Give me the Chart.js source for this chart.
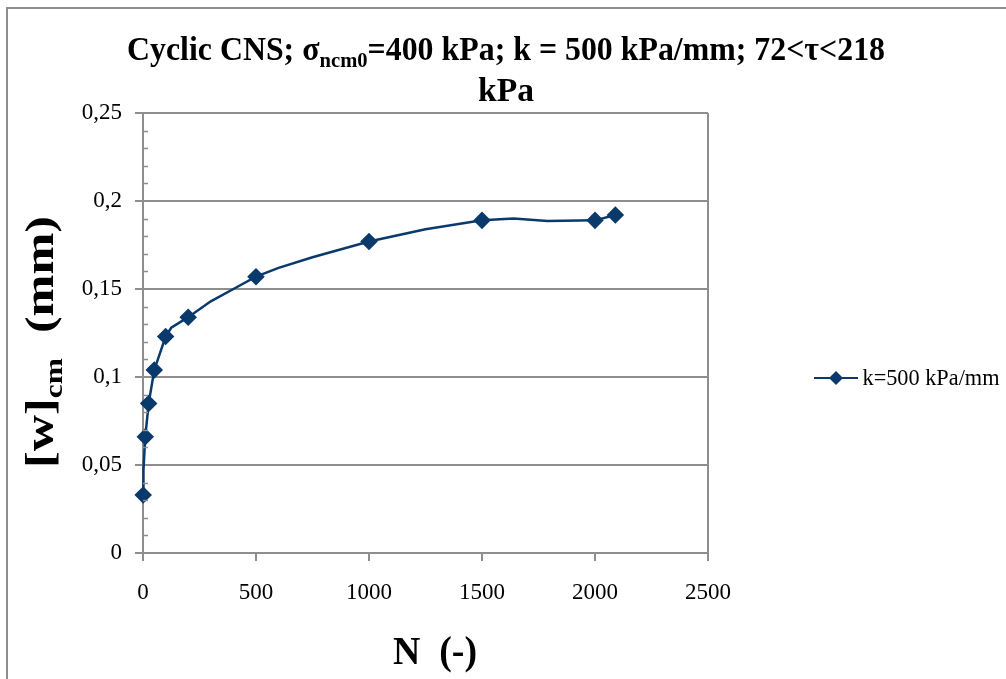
<!DOCTYPE html>
<html>
<head>
<meta charset="utf-8">
<script src="https://cdn.jsdelivr.net/npm/chart.js@4"></script>
<style>
  html, body { margin: 0; padding: 0; background: #fff; }
  #wrap { width: 1006px; height: 679px; }
</style>
</head>
<body>
<div id="wrap"><canvas class="js-chart" width="1006" height="679"></canvas></div>
<script>
const context = document.querySelector('.js-chart').getContext('2d');

// cycles N and cumulative displacement [w]cm (mm)
const cycles = [1, 2, 10, 25, 50, 100, 125, 200, 300, 400, 500, 600, 750, 1000, 1250, 1500, 1640, 1790, 2000, 2090];
const wcm = [0.033, 0.047, 0.066, 0.085, 0.104, 0.123, 0.128, 0.134, 0.143, 0.150, 0.157, 0.162, 0.168, 0.177, 0.184, 0.189, 0.190, 0.1886, 0.189, 0.192];
const withMarker = [1, 0, 1, 1, 1, 1, 0, 1, 0, 0, 1, 0, 0, 1, 0, 1, 0, 0, 1, 1];
const yTicks = [0, 0.05, 0.1, 0.15, 0.2, 0.25];
const xTicks = [0, 500, 1000, 1500, 2000, 2500];
const seriesLabel = 'k=500 kPa/mm';

const LINE = '#0a3a6b';
const GRID = '#8e8e8e';
const SERIF = '"Liberation Serif", "Times New Roman", serif';

// draws text pieces one after another; width (optional) squeezes them to that length
function drawRich(ctx, parts, x, y, width) {
  let total = 0;
  parts.forEach(p => {
    ctx.font = p.font;
    p.w = ctx.measureText(p.text).width;
    total += p.w;
  });
  const sx = width ? width / total : 1;
  ctx.save();
  ctx.translate(x, y);
  ctx.scale(sx, 1);
  let cx = -total / 2;
  parts.forEach(p => {
    ctx.font = p.font;
    ctx.fillText(p.text, cx, p.dy || 0);
    cx += p.w;
  });
  ctx.restore();
}

const decorations = {
  id: 'decorations',
  beforeDraw(chart) {
    const ctx = chart.ctx;
    ctx.save();
    ctx.strokeStyle = GRID;
    ctx.lineWidth = 2;
    ctx.beginPath();
    ctx.moveTo(7, 679);
    ctx.lineTo(7, 8);
    ctx.lineTo(1006, 8);
    ctx.stroke();
    ctx.restore();
  },
  afterDraw(chart) {
    const ctx = chart.ctx;
    const y = chart.scales.y;
    const area = chart.chartArea;
    ctx.save();

    // minor ticks inside the y axis
    ctx.strokeStyle = GRID;
    ctx.lineWidth = 1.5;
    for (let v = 1; v < 25; v++) {
      if (v % 5 === 0) continue;
      const py = Math.round(y.getPixelForValue(v / 100)) + 0.5;
      ctx.beginPath();
      ctx.moveTo(area.left, py);
      ctx.lineTo(area.left + 5, py);
      ctx.stroke();
    }

    ctx.fillStyle = '#000';
    ctx.textBaseline = 'alphabetic';

    // title
    drawRich(ctx, [
      { text: 'Cyclic CNS; σ', font: 'bold 34px ' + SERIF },
      { text: 'ncm0', font: 'bold 22px ' + SERIF, dy: 7 },
      { text: '=400 kPa; k = 500 kPa/mm; 72<τ<218', font: 'bold 34px ' + SERIF },
    ], 506, 60, 758);
    drawRich(ctx, [{ text: 'kPa', font: 'bold 34px ' + SERIF }], 506, 101, 56);

    // x axis title
    drawRich(ctx, [{ text: 'N  (-)', font: 'bold 40px ' + SERIF }], 435, 664, 84);

    // y axis title
    ctx.save();
    ctx.translate(53, 342);
    ctx.rotate(-Math.PI / 2);
    drawRich(ctx, [
      { text: '[w]', font: 'bold 40px ' + SERIF },
      { text: 'cm', font: 'bold 25px ' + SERIF, dy: 9 },
      { text: '  (mm)', font: 'bold 40px ' + SERIF },
    ], 0, 0, 252);
    ctx.restore();

    // legend
    const ly = 378;
    ctx.strokeStyle = LINE;
    ctx.lineWidth = 2;
    ctx.beginPath();
    ctx.moveTo(814, ly);
    ctx.lineTo(858, ly);
    ctx.stroke();
    ctx.fillStyle = LINE;
    ctx.beginPath();
    ctx.moveTo(836, ly - 7);
    ctx.lineTo(843, ly);
    ctx.lineTo(836, ly + 7);
    ctx.lineTo(829, ly);
    ctx.closePath();
    ctx.fill();
    ctx.fillStyle = '#000';
    ctx.textBaseline = 'middle';
    drawRich(ctx, [{ text: seriesLabel, font: '23px ' + SERIF }], 931, ly + 1, 137);

    ctx.restore();
  },
};

new Chart(context, {
  type: 'scatter',
  data: {
    datasets: [
      {
        label: seriesLabel,
        data: cycles.map((n, i) => ({ x: n, y: wcm[i] })),
        showLine: true,
        tension: 0,
        clip: false,
        borderColor: LINE,
        borderWidth: 2.5,
        backgroundColor: LINE,
        pointStyle: 'rectRot',
        pointRadius: withMarker.map(m => (m ? 7 : 0)),
        pointHoverRadius: withMarker.map(m => (m ? 7 : 0)),
      },
    ],
  },
  plugins: [decorations],
  options: {
    responsive: false,
    animation: false,
    layout: { padding: { left: 0, top: 113, right: 1006 - 708, bottom: 0 } },
    plugins: {
      legend: { display: false },
      title: { display: false },
      tooltip: { enabled: false },
    },
    scales: {
      x: {
        type: 'linear',
        min: 0,
        max: 2500,
        afterFit(scale) { scale.height = 679 - 553; },
        afterBuildTicks(scale) { scale.ticks = xTicks.map(v => ({ value: v })); },
        border: { color: GRID, width: 2 },
        grid: {
          color: c => (c.tick && c.tick.value === 2500 ? GRID : 'rgba(0,0,0,0)'),
          tickColor: GRID,
          lineWidth: 2,
          tickLength: 8,
        },
        ticks: {
          color: '#000',
          font: { family: SERIF, size: 23 },
          padding: 18,
          maxRotation: 0,
          callback: v => String(v),
        },
      },
      y: {
        min: 0,
        max: 0.25,
        afterFit(scale) { scale.width = 143; },
        afterBuildTicks(scale) { scale.ticks = yTicks.map(v => ({ value: v })); },
        border: { color: GRID, width: 2 },
        grid: {
          color: GRID,
          tickColor: GRID,
          lineWidth: 2,
          tickLength: 8,
        },
        ticks: {
          color: '#000',
          font: { family: SERIF, size: 23 },
          padding: 13,
          callback: v => String(Math.round(v * 100) / 100).replace('.', ','),
        },
      },
    },
  },
});
</script>
</body>
</html>
